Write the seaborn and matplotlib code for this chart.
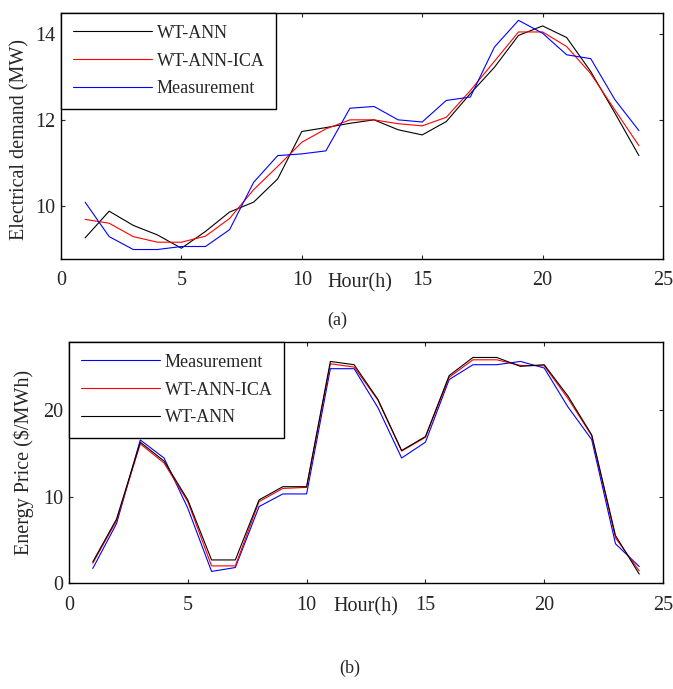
import numpy as np
import pandas as pd
import seaborn as sns
import matplotlib
matplotlib.use('Agg')
import matplotlib.pyplot as plt

# data
hours = list(range(1, 25))

demand_wt_ann = [9.27, 9.89, 9.56, 9.34, 9.03, 9.42, 9.87, 10.10, 10.64, 11.74, 11.83, 11.93,
                 12.01, 11.78, 11.66, 11.97, 12.62, 13.23, 13.97, 14.19, 13.92, 13.13, 12.17, 11.18]
demand_wt_ann_ica = [9.70, 9.61, 9.30, 9.17, 9.17, 9.31, 9.72, 10.39, 10.93, 11.49, 11.80, 12.01,
                     12.01, 11.92, 11.87, 12.07, 12.69, 13.37, 14.05, 14.05, 13.71, 13.08, 12.24, 11.41]
demand_meas = [10.10, 9.30, 9.00, 9.00, 9.07, 9.07, 9.46, 10.56, 11.18, 11.22, 11.29, 12.28,
               12.32, 12.01, 11.96, 12.46, 12.54, 13.70, 14.32, 14.02, 13.52, 13.43, 12.48, 11.76]

price_meas = [1.68, 6.87, 16.56, 14.47, 8.66, 1.34, 1.79, 8.85, 10.31, 10.31, 24.81, 24.81,
              20.31, 14.47, 16.30, 23.55, 25.27, 25.27, 25.65, 24.89, 20.38, 16.60, 4.54, 1.91]
price_wt_ann_ica = [2.29, 7.21, 16.11, 13.89, 9.43, 1.98, 1.98, 9.43, 10.95, 11.07, 25.38, 25.00,
                    21.18, 15.27, 16.87, 23.82, 25.84, 25.84, 25.19, 25.15, 21.37, 17.06, 5.23, 1.41]
price_wt_ann = [2.44, 7.40, 16.30, 14.12, 9.62, 2.67, 2.67, 9.62, 11.15, 11.15, 25.65, 25.27,
                21.26, 15.34, 16.95, 24.01, 26.11, 26.11, 25.08, 25.27, 21.64, 17.14, 5.50, 1.03]

sns.set_style('ticks')
plt.rcParams['font.family'] = ['Liberation Serif', 'DejaVu Serif']

fs = 14.5
fig = plt.figure(figsize=(6.73, 6.89), dpi=100)
ax1 = fig.add_axes([61/673, 1-259/689, 602/673, 246/689])
ax2 = fig.add_axes([69/673, 1-583/689, 594/673, 241/689])

# (a) electrical demand
sns.lineplot(x=hours, y=demand_wt_ann, color='k', lw=0.8, label='WT-ANN', ax=ax1)
sns.lineplot(x=hours, y=demand_wt_ann_ica, color='r', lw=0.8, label='WT-ANN-ICA', ax=ax1)
sns.lineplot(x=hours, y=demand_meas, color='b', lw=0.8, label='Measurement', ax=ax1)
ax1.set_ylim(8.78, 14.49)
ax1.set_yticks([10, 12, 14])

# (b) energy price
sns.lineplot(x=hours, y=price_meas, color='b', lw=0.8, label='Measurement', ax=ax2)
sns.lineplot(x=hours, y=price_wt_ann_ica, color='r', lw=0.8, label='WT-ANN-ICA', ax=ax2)
sns.lineplot(x=hours, y=price_wt_ann, color='k', lw=0.8, label='WT-ANN', ax=ax2)
ax2.set_ylim(0, 27.9)
ax2.set_yticks([0, 10, 20])

for ax in (ax1, ax2):
    ax.set_xlim(0, 25)
    ax.set_xticks([0, 5, 10, 15, 20, 25])
    ax.tick_params(direction='in', top=True, right=True, length=3, width=0.8,
                   labelsize=fs)
    ax.tick_params(axis='x', pad=9)
    ax.tick_params(axis='y', pad=4)
    for sp in ax.spines.values():
        sp.set_visible(True)
        sp.set_linewidth(1.0)
        sp.set_color('k')
    ax.set_xlabel('')
    ax.set_ylabel('')
    leg = ax.legend(loc='upper left', bbox_to_anchor=(0, 1), borderaxespad=0,
                    fancybox=False, edgecolor='k', framealpha=1, fontsize=13,
                    handlelength=4.4, handletextpad=0.25, labelspacing=0.6,
                    borderpad=0.65)
    leg.get_frame().set_linewidth(1.0)

ax1.text(0.497, -0.097, 'Hour(h)', transform=ax1.transAxes, ha='center', va='center', fontsize=fs)
ax2.text(0.5, -0.10, 'Hour(h)', transform=ax2.transAxes, ha='center', va='center', fontsize=fs)

fig.text(20/673, 1-140/689, 'Electrical demand (MW)', rotation=90, ha='center', va='center', fontsize=fs)
fig.text(24/673, 1-462/689, 'Energy Price ($/MWh)', rotation=90, ha='center', va='center', fontsize=fs)
fig.text(337/673, 1-320/689, '(a)', ha='center', va='center', fontsize=13)
fig.text(350/673, 1-668/689, '(b)', ha='center', va='center', fontsize=13)

fig.savefig('out.png', dpi=100)
